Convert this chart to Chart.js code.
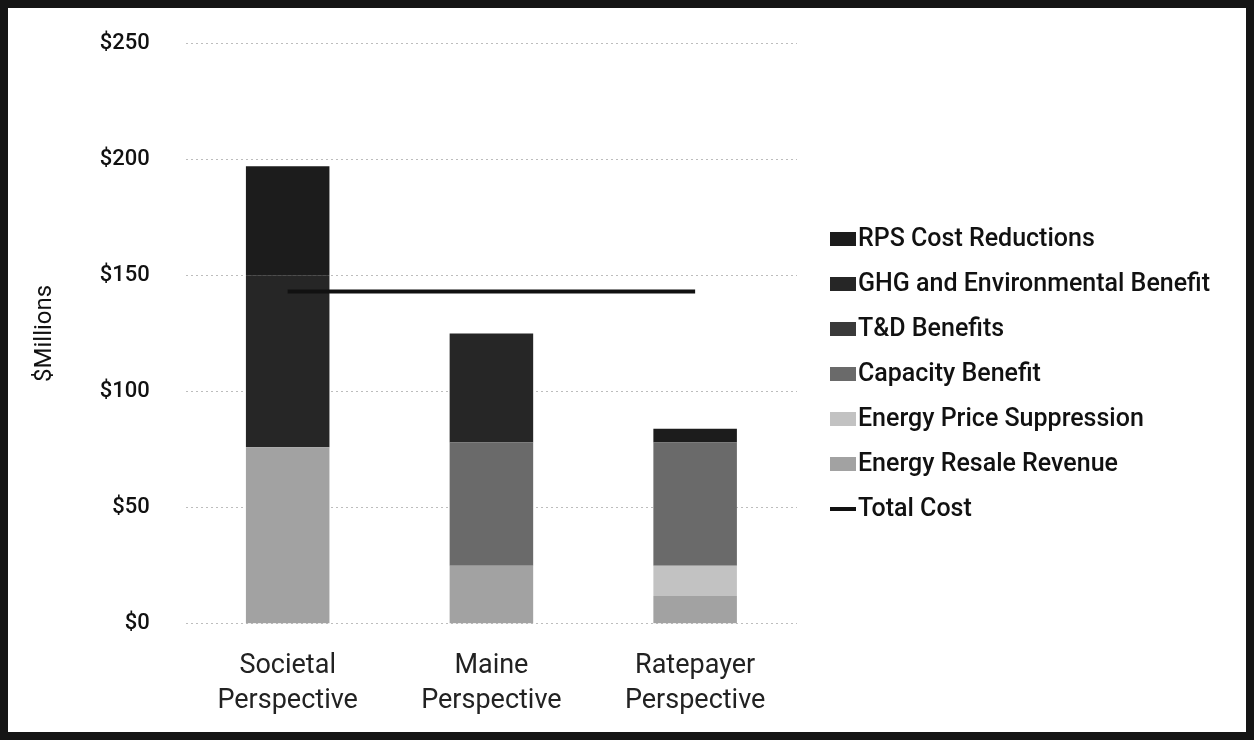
<!DOCTYPE html>
<html>
<head>
<meta charset="utf-8">
<script src="https://cdn.jsdelivr.net/npm/chart.js@4.4.1/dist/chart.umd.min.js"></script>
<style>
  html, body { margin: 0; padding: 0; background: #fff; }
  #frame {
    width: 1254px; height: 740px; box-sizing: border-box;
    border: 8px solid #151515; position: relative; background: #fff;
  }
  #wrap { position: absolute; left: 0; top: 0; width: 1238px; height: 724px; }
</style>
</head>
<body>
<div id="frame"><div id="wrap"><canvas id="benefitChart"></canvas></div></div>
<script>
// categories (multi-line tick labels)
const perspectives = [['Societal', 'Perspective'], ['Maine', 'Perspective'], ['Ratepayer', 'Perspective']];

// benefit components, $ millions, bottom of the stack first
const energyResale      = [76, 25, 12];
const priceSuppression  = [0, 0, 13];
const capacityBenefit   = [0, 53, 53];
const tdBenefits        = [0, 0, 0];
const ghgBenefit        = [74, 47, 0];
const rpsCostReductions = [47, 0, 6];

// total cost line
const totalCost = [143, 143, 143];

const yTicks = [0, 50, 100, 150, 200, 250];

const fontFam = 'Roboto, "Liberation Sans", Arial, sans-serif';

function bar(label, data, color) {
  return { type: 'bar', label: label, data: data, backgroundColor: color, borderWidth: 0, stack: 's', order: 2 };
}

// legend drawn on the right: bars top-down, then the line
const sideLegend = {
  id: 'sideLegend',
  afterDraw(chart) {
    const c = chart.ctx, area = chart.chartArea;
    const x = area.right + 33;
    let y = area.top + 196;
    c.save();
    c.font = '500 25px ' + fontFam;
    c.textBaseline = 'middle';
    const all = chart.data.datasets;
    const items = all.filter(d => d.type === 'bar').reverse().concat(all.filter(d => d.type === 'line'));
    items.forEach(d => {
      if (d.type === 'line') {
        c.fillStyle = d.borderColor;
        c.fillRect(x, y - 2, 26, 4);
      } else {
        c.fillStyle = d.backgroundColor;
        c.fillRect(x, y - 7, 26, 14);
      }
      c.fillStyle = '#111';
      c.fillText(d.label, x + 28, y + 1);
      y += 45;
    });
    c.restore();
  }
};

const ctx = document.getElementById('benefitChart');
new Chart(ctx, {
  data: {
    labels: perspectives,
    datasets: [
      bar('Energy Resale Revenue', energyResale, '#a2a2a2'),
      bar('Energy Price Suppression', priceSuppression, '#c2c2c2'),
      bar('Capacity Benefit', capacityBenefit, '#6a6a6a'),
      bar('T&D Benefits', tdBenefits, '#3a3a3a'),
      bar('GHG and Environmental Benefit', ghgBenefit, '#262626'),
      bar('RPS Cost Reductions', rpsCostReductions, '#1c1c1c'),
      {
        type: 'line', label: 'Total Cost', data: totalCost,
        borderColor: '#111', backgroundColor: '#111', borderWidth: 4,
        pointRadius: 0, order: 1
      }
    ]
  },
  plugins: [sideLegend],
  options: {
    responsive: true,
    maintainAspectRatio: false,
    animation: false,
    layout: { padding: { top: 35, right: 449, bottom: -4, left: 19 } },
    datasets: { bar: { barPercentage: 0.41, categoryPercentage: 1 } },
    plugins: {
      legend: { display: false },
      tooltip: { enabled: false }
    },
    scales: {
      x: {
        stacked: true,
        grid: { display: false },
        border: { display: false },
        ticks: {
          color: '#222',
          font: { family: fontFam, size: 27, lineHeight: 1.3 },
          padding: 17
        }
      },
      y: {
        stacked: true,
        min: 0, max: 250,
        afterBuildTicks(axis) { axis.ticks = yTicks.map(v => ({ value: v })); },
        afterFit(axis) { axis.paddingTop = 0; },
        grid: { color: '#bdbdbd', lineWidth: 1, drawTicks: false },
        border: { display: false, dash: [2, 3] },
        ticks: {
          color: '#111',
          font: { family: fontFam, size: 22, weight: 500 },
          padding: 36,
          callback: v => '$' + v
        },
        title: {
          display: true, text: '$Millions', color: '#111',
          font: { family: fontFam, size: 24 }, padding: 4
        }
      }
    }
  }
});
</script>
</body>
</html>
